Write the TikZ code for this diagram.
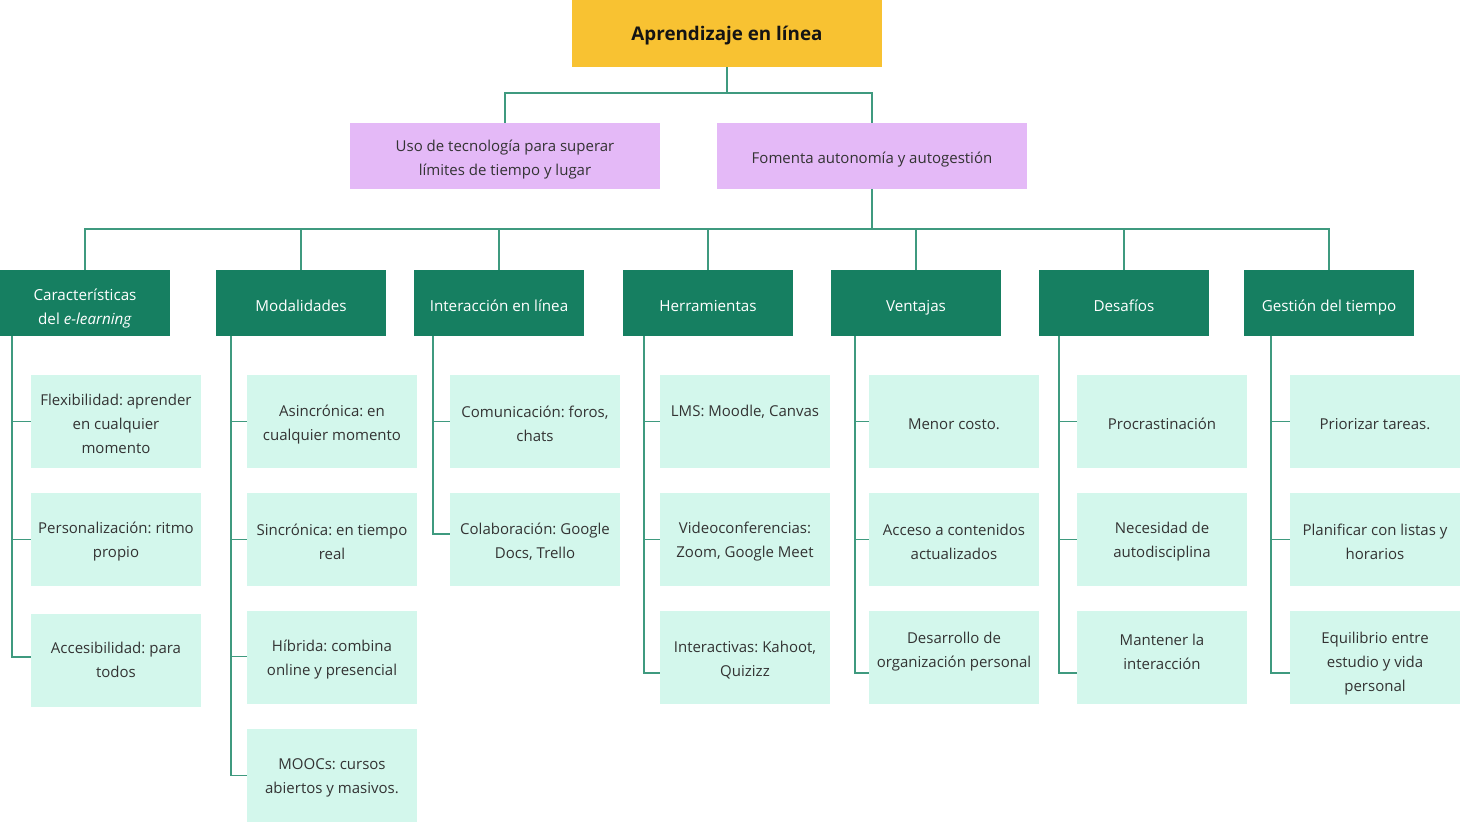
\documentclass[tikz,border=0pt]{standalone}
\usepackage{fontspec}
\setmainfont{Open Sans}
\frenchspacing
\definecolor{rootfill}{HTML}{F8C232}
\definecolor{purplefill}{HTML}{E4B9F7}
\definecolor{headfill}{HTML}{167F61}
\definecolor{kidfill}{HTML}{D3F7EC}
\definecolor{linecol}{HTML}{3F9A7F}
\definecolor{txt}{HTML}{333333}
\newcommand\kid[5]{%
  \node[kidbox] (#1) at (#2,#3) {};
  \node[kidtext] (#1t) at (#2,#4) {#5};
}
\newcommand\headnode[4]{%
  \node[headbox] (#1) at (#2,303) {};
  \node[headtext] (#1t) at (#2,#3) {#4};
}
\begin{document}
\begin{tikzpicture}[x=1pt,y=-1pt,
  rootbox/.style={fill=rootfill, minimum width=310pt, minimum height=67pt, inner sep=0pt, outer sep=0pt},
  roottext/.style={inner sep=0pt, font=\fontsize{18.8}{22}\selectfont\bfseries, text=black!92},
  purplebox/.style={fill=purplefill, minimum width=310pt, minimum height=66pt, inner sep=0pt, outer sep=0pt},
  purpletext/.style={align=center, inner sep=0pt, font=\fontsize{15}{24}\selectfont\frenchspacing, text=txt},
  headbox/.style={fill=headfill, minimum width=170pt, minimum height=66pt, inner sep=0pt, outer sep=0pt},
  headtext/.style={align=center, inner sep=0pt, font=\fontsize{15.2}{24}\selectfont\frenchspacing, text=white},
  kidbox/.style={fill=kidfill, minimum width=170pt, minimum height=93pt, inner sep=0pt, outer sep=0pt},
  kidtext/.style={align=center, inner sep=0pt, font=\fontsize{15}{24}\selectfont\frenchspacing, text=txt},
  conn/.style={draw=linecol, line width=1.1pt}
]
\useasboundingbox (0,0) rectangle (1460,822);

% root and second level
\node[rootbox] (root) at (727,33.5) {};
\node[roottext] (roott) at (727,35.5) {Aprendizaje en línea};
\node[purplebox] (p1) at (505,156) {};
\node[purpletext] (p1t) at (505,160) {Uso de tecnología para superar\\límites de tiempo y lugar};
\node[purplebox] (p2) at (872,156) {};
\node[purpletext] (p2t) at (872,160) {Fomenta autonomía y autogestión};

% headers
\headnode{h1}{85}{308}{Características\\del \textit{e-learning}}
\headnode{h2}{301}{306}{Modalidades}
\headnode{h3}{499}{306}{Interacción en línea}
\headnode{h4}{708}{306}{Herramientas}
\headnode{h5}{916}{308}{Ventajas}
\headnode{h6}{1124}{306}{Desafíos}
\headnode{h7}{1329}{307}{Gestión del tiempo}

% children
\kid{c11}{116}{421.5}{424}{Flexibilidad: aprender\\en cualquier\\momento}
\kid{c12}{116}{539.5}{542}{Personalización: ritmo\\propio}
\kid{c13}{116}{660.5}{660}{Accesibilidad: para\\todos}

\kid{c21}{332}{421.5}{425}{Asincrónica: en\\cualquier momento}
\kid{c22}{332}{539.5}{542}{Sincrónica: en tiempo\\real}
\kid{c23}{332}{657.5}{660}{Híbrida: combina\\online y presencial}
\kid{c24}{332}{775.5}{778}{MOOCs: cursos\\abiertos y masivos.}

\kid{c31}{535}{421.5}{424}{Comunicación: foros,\\chats}
\kid{c32}{535}{539.5}{542}{Colaboración: Google\\Docs, Trello}

\kid{c41}{745}{421.5}{412}{LMS: Moodle, Canvas}
\kid{c42}{745}{539.5}{542}{Videoconferencias:\\Zoom, Google Meet}
\kid{c43}{745}{657.5}{660}{Interactivas: Kahoot,\\Quizizz}

\kid{c51}{954}{421.5}{424}{Menor costo.}
\kid{c52}{954}{539.5}{542}{Acceso a contenidos\\actualizados}
\kid{c53}{954}{657.5}{652}{Desarrollo de\\organización personal}

\kid{c61}{1162}{421.5}{424}{Procrastinación}
\kid{c62}{1162}{539.5}{542}{Necesidad de\\autodisciplina}
\kid{c63}{1162}{657.5}{652}{Mantener la\\interacción}

\kid{c71}{1375}{421.5}{424}{Priorizar tareas.}
\kid{c72}{1375}{539.5}{542}{Planificar con listas y\\horarios}
\kid{c73}{1375}{657.5}{664}{Equilibrio entre\\estudio y vida\\personal}

% connectors top
\draw[conn] (root.south) -- ++(0,26) -| (p1.north);
\draw[conn] (root.south) -- ++(0,26) -| (p2.north);
\foreach \h in {h1,h2,h3,h4,h5,h6,h7} {
  \draw[conn] (p2.south) -- ++(0,40) -| (\h.north);
}

% column connectors
\draw[conn] ([xshift=12pt]h1.south west) |- (c11.west);
\draw[conn] ([xshift=12pt]h1.south west) |- (c12.west);
\draw[conn] ([xshift=12pt]h1.south west) |- ([yshift=3.5pt]c13.west);

\draw[conn] ([xshift=15pt]h2.south west) |- (c21.west);
\draw[conn] ([xshift=15pt]h2.south west) |- (c22.west);
\draw[conn] ([xshift=15pt]h2.south west) |- ([yshift=1pt]c23.west);
\draw[conn] ([xshift=15pt]h2.south west) |- (c24.west);

\draw[conn] ([xshift=19pt]h3.south west) |- (c31.west);
\draw[conn] ([xshift=19pt]h3.south west) |- ([yshift=5.5pt]c32.west);

\draw[conn] ([xshift=21pt]h4.south west) |- (c41.west);
\draw[conn] ([xshift=21pt]h4.south west) |- (c42.west);
\draw[conn] ([xshift=21pt]h4.south west) |- ([yshift=-15.5pt]c43.west);

\draw[conn] ([xshift=24pt]h5.south west) |- (c51.west);
\draw[conn] ([xshift=24pt]h5.south west) |- (c52.west);
\draw[conn] ([xshift=24pt]h5.south west) |- ([yshift=-15.5pt]c53.west);

\draw[conn] ([xshift=20pt]h6.south west) |- (c61.west);
\draw[conn] ([xshift=20pt]h6.south west) |- (c62.west);
\draw[conn] ([xshift=20pt]h6.south west) |- ([yshift=-15.5pt]c63.west);

\draw[conn] ([xshift=27pt]h7.south west) |- (c71.west);
\draw[conn] ([xshift=27pt]h7.south west) |- (c72.west);
\draw[conn] ([xshift=27pt]h7.south west) |- ([yshift=-15.5pt]c73.west);
\end{tikzpicture}
\end{document}
